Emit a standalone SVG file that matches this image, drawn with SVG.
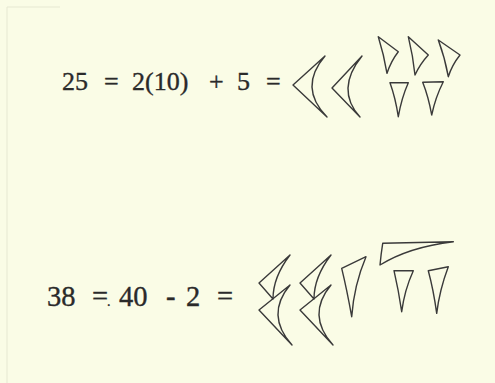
<svg xmlns="http://www.w3.org/2000/svg" width="495" height="383" viewBox="0 0 495 383">
  <style>
    .bg { fill: #fafce6; }
    .edge { stroke: #e6e8d2; stroke-width: 1; fill: none; }
    .eq { fill: #2a2a2a; stroke: #2a2a2a; stroke-width: 0.35; font-family: "Liberation Serif", "DejaVu Serif", serif; }
    .w { fill: none; stroke: #3a3a3a; stroke-width: 1.4; stroke-linejoin: round; stroke-linecap: round; }
  </style>
  <rect class="bg" x="0" y="0" width="495" height="383"/>
  <path class="edge" d="M7,383 L7,7 L60,7"/>

  <g id="eq1">
    <text class="eq" font-size="26" y="90"><tspan x="62">25</tspan><tspan x="104">=</tspan><tspan x="132">2(10)</tspan><tspan x="209">+</tspan><tspan x="237">5</tspan><tspan x="266">=</tspan></text>
  </g>

  <g id="cuneiform25">
    <path class="w" d="M325,56 L293,85 L327,117 Q298,87.5 325,56 Z"/>
    <path class="w" d="M362,56 L332,88 L360,117 Q335,89.5 362,56 Z"/>
    <path class="w" d="M378.3,36.7 L398.3,51.7 Q391,61 387,73.3 Q384,55 378.3,36.7 Z"/>
    <path class="w" d="M408.3,36.7 L428.3,55 Q420,64 415,75 Q413,56 408.3,36.7 Z"/>
    <path class="w" d="M438.3,40 L460,55 Q452,65 448.3,76.7 Q445,58 438.3,40 Z"/>
    <path class="w" d="M390,82.7 L408.3,82.7 Q401.5,98 398.3,116.7 Q395.5,98 390,82.7 Z"/>
    <path class="w" d="M422.7,82.3 L443.3,81.7 Q435.5,97 431.7,115 Q428.5,97 422.7,82.3 Z"/>
  </g>

  <g id="eq2">
    <text class="eq" font-size="28.5" y="306"><tspan x="47">38</tspan><tspan x="92">=</tspan><tspan x="107" font-size="14">.</tspan><tspan x="119">40</tspan><tspan x="166">-</tspan><tspan x="186">2</tspan><tspan x="217">=</tspan></text>
  </g>

  <g id="cuneiform38">
    <g id="tens-a">
      <path class="w" d="M273,299 L259,283 L290,255 Q273,277 273,299"/>
      <path class="w" d="M290,285 L259,310 L292,345 Q265,315 290,285 Z"/>
    </g>
    <g id="tens-b" transform="translate(41,0)">
      <path class="w" d="M273,299 L259,283 L290,255 Q273,277 273,299"/>
      <path class="w" d="M290,285 L259,310 L292,345 Q265,315 290,285 Z"/>
    </g>
    <path class="w" d="M341.7,268.3 L366,256.7 Q354,285 351.7,316.7 Q347,290 341.7,268.3 Z"/>
    <path class="w" d="M382.7,243.3 L453.3,241.7 Q409,247 380,265 Q381,254 382.7,243.3 Z"/>
    <path class="w" d="M394,270.7 L413.3,270.7 Q404.5,290 401.7,311.7 Q398.5,290 394,270.7 Z"/>
    <path class="w" d="M428.3,270.7 L448.3,266.7 Q439.5,290 436.7,313.3 Q433.5,290 428.3,270.7 Z"/>
  </g>
</svg>
